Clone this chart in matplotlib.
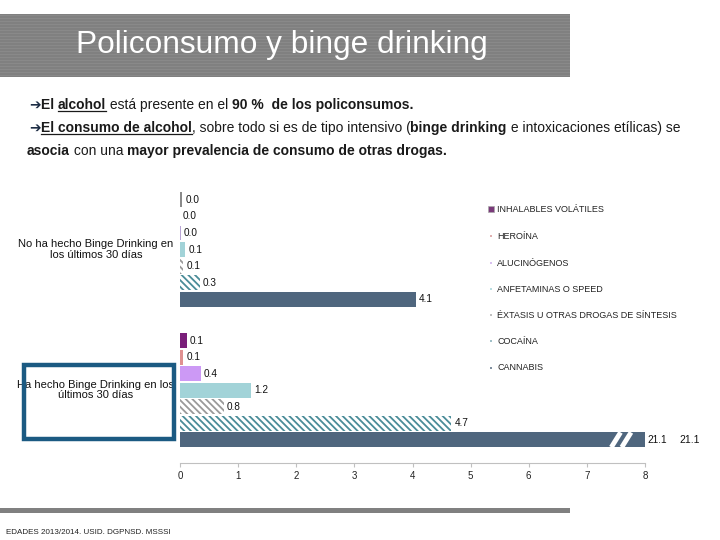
import matplotlib
matplotlib.use("Agg")
import matplotlib.pyplot as plt
from matplotlib.patches import Rectangle
import numpy as np

# ---------------- data ----------------
drugs = ["INHALABLES VOLÁTILES", "HEROÍNA", "ALUCINÓGENOS", "ANFETAMINAS O SPEED",
         "ÉXTASIS U OTRAS DROGAS DE SÍNTESIS", "COCAÍNA", "CANNABIS"]
groups = ["No ha hecho Binge Drinking en\nlos últimos 30 días",
          "Ha hecho Binge Drinking en los\núltimos 30 días"]
no_binge = [0.04, 0.0, 0.01, 0.09, 0.06, 0.34, 4.06]
binge = [0.12, 0.06, 0.36, 1.22, 0.76, 4.67, 21.1]
xticks = [0, 1, 2, 3, 4, 5, 6, 7, 8]
source = "EDADES 2013/2014. USID. DGPNSD. MSSSI"

# styles
colors_g2 = ["#7a1f7a", "#e09090", "#cc99f5", "#a2d3d8", "#ffffff", "#ffffff", "#4f667e"]
colors_g1 = ["#8a8a8a", "#e09090", "#b8a4d4", "#a2d3d8", "#ffffff", "#ffffff", "#4f667e"]
hatch_col = ["none", "none", "none", "none", "#9a9a9a", "#4a8c98", "none"]
hatches = [None, None, None, None, "\\" * 5, "\\" * 5, None]
legend_marker = ["#7a3a7a", "#e0b0b0", "#d8c0f0", "#b8dde0", "#c0c0c0", "#a0c0c8", "#8090a0"]

plt.rcParams["hatch.linewidth"] = 1.3

W, H = 720, 540
fig = plt.figure(figsize=(7.2, 5.4), dpi=100)
fig.patch.set_facecolor("white")

def fx(px):
    return px / W

def fy(py):
    return 1 - py / H

FONT = ["Liberation Sans", "DejaVu Sans"]

# ---------------- title band ----------------
fig.patches.append(Rectangle((0, fy(77)), fx(570), (77 - 14) / H, transform=fig.transFigure,
                             facecolor="#808080", edgecolor="none", zorder=0))
for yy in np.arange(15, 77, 3):
    fig.patches.append(Rectangle((0, fy(yy + 1)), fx(570), 1 / H, transform=fig.transFigure,
                                 facecolor="#898989", edgecolor="none", zorder=0))
fig.text(fx(282), fy(45), "Policonsumo y binge drinking", color="white", fontsize=22.8,
         family=FONT, ha="center", va="center")

# ---------------- footer ----------------
fig.patches.append(Rectangle((0, fy(513)), fx(570), 5 / H, transform=fig.transFigure,
                             facecolor="#808080", edgecolor="none"))
fig.text(fx(6), fy(532), source, fontsize=5.8, family=FONT, color="#222222", va="center")

# ---------------- bullet text with mixed styles ----------------
fig.canvas.draw()
renderer = fig.canvas.get_renderer()

def runs(x_px, y_px, parts, size=10.0):
    x = x_px
    for txt, bold, under, col in parts:
        t = fig.text(fx(x), fy(y_px), txt, fontsize=size, family=FONT,
                     fontweight="bold" if bold else "normal", color=col, va="baseline")
        bb = t.get_window_extent(renderer)
        if under:
            fig.lines.append(plt.Line2D([fx(x), fx(x) + bb.width / W], [fy(y_px + 2), fy(y_px + 2)],
                                        transform=fig.transFigure, color=col, lw=0.9))
        x += bb.width

K = "#1a1a1a"
A = "#1c2c44"
runs(29, 109, [("➔", True, False, A), ("El ", True, False, K), ("alcohol", True, True, K),
               (" está presente en el ", False, False, K), ("90 %  de los policonsumos.", True, False, K)])
runs(29, 132, [("➔", True, False, A), ("El consumo de alcohol", True, True, K),
               (", sobre todo si es de tipo intensivo (", False, False, K), ("binge drinking", True, False, K),
               (" e intoxicaciones etílicas) se", False, False, K)])
runs(27, 155, [("asocia", True, False, K), (" con una ", False, False, K),
               ("mayor prevalencia de consumo de otras drogas.", True, False, K)])

# ---------------- chart ----------------
ax_top, ax_bot = 190, 463
ax = fig.add_axes([fx(180), fy(ax_bot), fx(645) - fx(180), (ax_bot - ax_top) / H])
ax.set_facecolor("none")
y1 = np.arange(len(drugs))
y2 = y1 + len(drugs) + 1.5
bh = 0.9
for i in range(len(drugs)):
    for yv, val, cols in ((y1[i], no_binge[i], colors_g1), (y2[i], binge[i], colors_g2)):
        ec = hatch_col[i] if hatches[i] else "none"
        ax.barh(yv, val, height=bh, color=cols[i], hatch=hatches[i], edgecolor=ec, linewidth=0)
        shown = min(val, xticks[-1])
        ax.text(shown + 0.05, yv, f"{val:.1f}", va="center", ha="left", fontsize=7.2,
                family=FONT, color="#111111")

# second label for broken bar, and break marks
big = binge[-1]
ax.text(8.6, y2[-1], f"{big:.1f}", va="center", ha="left", fontsize=7.5, family=FONT,
        color="#111111", clip_on=False)
for x0 in (7.42, 7.60):
    ax.plot([x0, x0 + 0.16], [y2[-1] + bh / 2, y2[-1] - bh / 2], color="white", lw=3.5,
            solid_capstyle="butt")

ax.set_xlim(0, 8)
ax.set_ylim(y2[-1] + 1.4, -0.6)
ax.set_xticks(xticks)
ax.set_xticklabels([str(t) for t in xticks], fontsize=7, family=FONT, color="#222222")
ax.set_yticks([])
for s in ("top", "right", "left"):
    ax.spines[s].set_visible(False)
ax.spines["bottom"].set_color("#c0c0c0")
ax.tick_params(axis="x", direction="out", length=3, color="#c0c0c0", pad=3)

# group labels (x in axes fraction, y in data)
for gy, lab in ((np.mean(y1), groups[0]), (np.mean(y2), groups[1])):
    ax.text(-0.181, gy, lab, transform=ax.get_yaxis_transform(), ha="center", va="center",
            fontsize=8, family=FONT, color="#111111", linespacing=1.05)

# highlight box around second group label
fig.patches.append(Rectangle((fx(24), fy(439)), fx(150), (439 - 365) / H, transform=fig.transFigure,
                             facecolor="none", edgecolor="#1b5a82", linewidth=3.2))

# ---------------- legend ----------------
leg_y = [209, 236, 263, 289, 315, 341, 368]
for i, (name, yy) in enumerate(zip(drugs, leg_y)):
    s = 6 if i == 0 else 2
    fig.patches.append(Rectangle((fx(491 - s / 2), fy(yy + s / 2)), s / W, s / H,
                                 transform=fig.transFigure, facecolor=legend_marker[i],
                                 edgecolor="#aaaaaa" if i == 0 else "none", linewidth=0.5))
    fig.text(fx(497), fy(yy), name, fontsize=6.5, family=FONT, va="center", color="#222222")

fig.savefig("out.png", dpi=100)
